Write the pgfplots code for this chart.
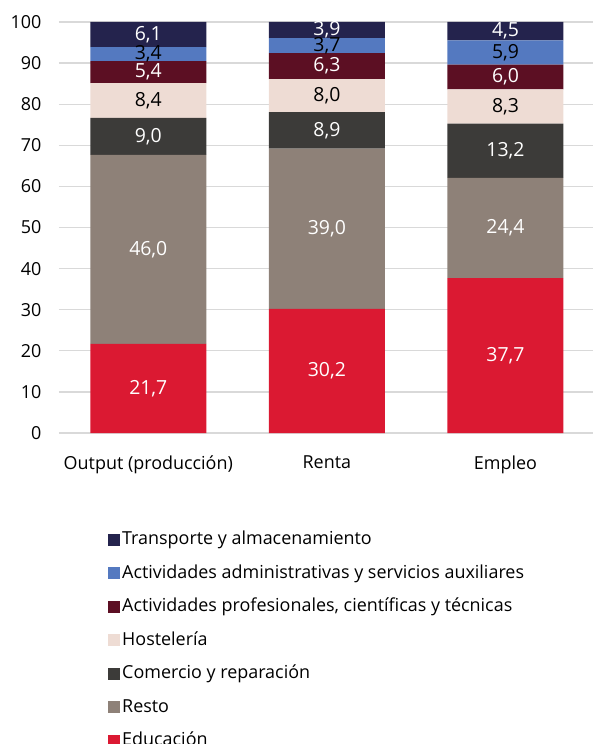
\documentclass[border=0pt]{standalone}
\usepackage{fontspec}
\setmainfont{Open Sans}
\usepackage{pgfplots}
\pgfplotsset{compat=1.18}
\usetikzlibrary{calc}
\definecolor{cTra}{HTML}{24234D}
\definecolor{cAdm}{HTML}{5479C0}
\definecolor{cPro}{HTML}{5C0F23}
\definecolor{cHos}{HTML}{EEDCD4}
\definecolor{cCom}{HTML}{3C3B39}
\definecolor{cRes}{HTML}{8E8178}
\definecolor{cEdu}{HTML}{DB1932}
\definecolor{gridc}{HTML}{D9D9D9}
\pgfplotsset{base/.style={scale only axis, width=534bp, height=411bp,
  xmin=-0.5, xmax=2.49, ymin=0, ymax=100, xtick={0,1,2}}}
\begin{document}
\begin{tikzpicture}
\begin{axis}[base, ybar stacked, bar width=116bp,
  ytick={0,10,...,100}, ymajorgrids,
  major grid style={draw=gridc, line width=1.2bp},
  axis line style={draw=none}, tick style={draw=none},
  xticklabels={Output (producción),Renta,Empleo},
  xticklabel style={font=\fontsize{18}{21}\selectfont, yshift=-19.5bp},
  yticklabel style={font=\fontsize{18}{21}\selectfont, xshift=-14bp},
  /pgf/number format/assume math mode=true,
  reverse legend, area legend,
  legend cell align=left,
  legend image code/.code={\fill[#1] (0bp,-6bp) rectangle (12bp,6bp);},
  legend style={at={(rel axis cs:0,0)}, anchor=north west, xshift=49bp, yshift=-95.4bp,
    draw=none, fill=none, inner sep=0pt, row sep=11bp,
    font=\fontsize{18}{21}\selectfont,
    nodes={inner sep=2bp, text height=14bp, text depth=4.5bp}},
]
\addplot[fill=cEdu, draw=none] coordinates {(0,21.7) (1,30.2) (2,37.7)};
\addplot[fill=cRes, draw=none] coordinates {(0,46.0) (1,39.0) (2,24.4)};
\addplot[fill=cCom, draw=none] coordinates {(0,9.0) (1,8.9) (2,13.2)};
\addplot[fill=cHos, draw=none] coordinates {(0,8.4) (1,8.0) (2,8.3)};
\addplot[fill=cPro, draw=none] coordinates {(0,5.4) (1,6.3) (2,6.0)};
\addplot[fill=cAdm, draw=none] coordinates {(0,3.4) (1,3.7) (2,5.9)};
\addplot[fill=cTra, draw=none] coordinates {(0,6.1) (1,3.9) (2,4.5)};
\legend{Educación,Resto,Comercio y reparación,Hostelería,{Actividades profesionales, científicas y técnicas},Actividades administrativas y servicios auxiliares,Transporte y almacenamiento}
\coordinate (ll) at (rel axis cs:0,0);
\coordinate (ur) at (rel axis cs:1,1);
\end{axis}
\begin{axis}[base, hide axis]
\addplot[only marks, mark=none, nodes near coords, point meta=explicit symbolic,
  every node near coord/.append style={anchor=center, text=white, font=\fontsize{19.5}{22}\selectfont}]
  table[meta=lab] {
x y lab
0 10.85 21,7
1 15.1 30,2
2 18.85 37,7
0 44.7 46,0
1 49.7 39,0
2 49.9 24,4
0 72.2 9,0
1 73.65 8,9
2 68.7 13,2
0 87.8 5,4
1 89.25 6,3
2 86.6 6,0
0 96.95 6,1
1 98.05 3,9
2 97.75 4,5
};
\addplot[only marks, mark=none, nodes near coords, point meta=explicit symbolic,
  every node near coord/.append style={anchor=center, text=black, font=\fontsize{19.5}{22}\selectfont}]
  table[meta=lab] {
x y lab
0 80.9 8,4
1 82.1 8,0
2 79.45 8,3
0 92.2 3,4
1 94.25 3,7
2 92.55 5,9
};
\end{axis}
\pgfresetboundingbox
\path[use as bounding box] ($(ll)+(-59bp,-311bp)$) rectangle ($(ur)+(0bp,22bp)$);
\end{tikzpicture}
\end{document}
